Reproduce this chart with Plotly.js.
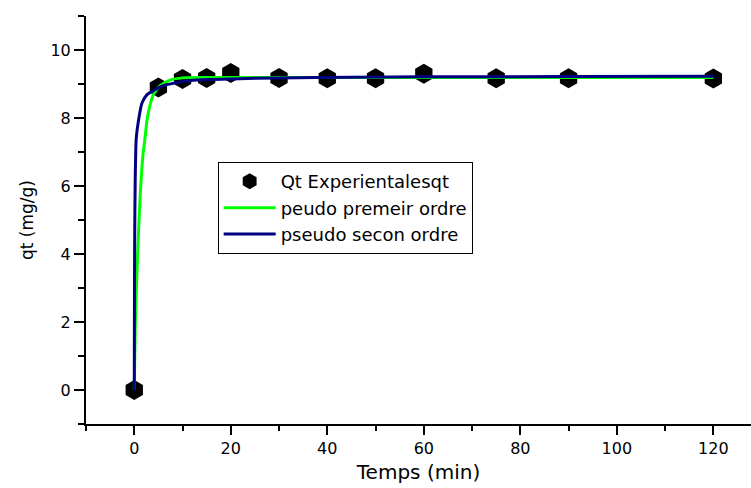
<!DOCTYPE html>
<html>
<head>
<meta charset="utf-8">
<script src="https://cdn.plot.ly/plotly-3.0.1.min.js"></script>
<style>html,body{margin:0;padding:0;background:#fff;}#chart{width:751px;height:488px;}</style>
</head>
<body>
<div id="chart"></div>
<script>
// Experimental points
var expTime = [0, 5, 10, 15, 20, 30, 40, 50, 60, 75, 90, 120];
var expQt   = [0, 8.9, 9.15, 9.18, 9.32, 9.18, 9.17, 9.17, 9.3, 9.17, 9.17, 9.16];

// Pseudo-first-order curve
var pfoTime = [0, 0.2, 0.5, 0.9, 1.3, 1.8, 2.3, 2.6, 3.3, 4, 5.4, 7.5, 10, 15, 20, 30, 60, 120];
var pfoQt   = [0, 1.8, 3.2, 4.7, 5.9, 6.9, 7.5, 7.9, 8.4, 8.7, 8.95, 9.12, 9.18, 9.19, 9.19, 9.19, 9.19, 9.19];

// Pseudo-second-order curve
var psoTime = [0, 0.05, 0.1, 0.2, 0.41, 0.9, 1.6, 2.6, 3.9, 6, 8.8, 11.6, 15, 20, 30, 45, 60, 90, 120];
var psoQt   = [0, 3.1, 4.7, 6.2, 7.4, 7.95, 8.44, 8.68, 8.8, 8.95, 9.04, 9.1, 9.13, 9.15, 9.18, 9.2, 9.21, 9.22, 9.23];

var names = ["Qt Experientalesqt", "peudo premeir ordre", "pseudo secon ordre"];

var traces = [
  {x: expTime, y: expQt, mode: "markers", type: "scatter", name: names[0],
   marker: {symbol: "hexagon", size: 20, color: "#000000"}},
  {x: pfoTime, y: pfoQt, mode: "lines", type: "scatter", name: names[1],
   line: {color: "#00ff00", width: 3, shape: "spline", smoothing: 0.6}},
  {x: psoTime, y: psoQt, mode: "lines", type: "scatter", name: names[2],
   line: {color: "#000080", width: 3, shape: "spline", smoothing: 0.6}}
];

var layout = {
  width: 751, height: 488,
  margin: {l: 86, r: 0, t: 16, b: 64},
  paper_bgcolor: "#ffffff", plot_bgcolor: "#ffffff",
  font: {family: "DejaVu Sans, sans-serif", color: "#000000", size: 16},
  showlegend: true,
  legend: {x: 0.198, y: 0.642, xanchor: "left", yanchor: "top",
           bordercolor: "#000000", borderwidth: 1, bgcolor: "#ffffff",
           font: {size: 18}, itemwidth: 52, tracegroupgap: 0},
  xaxis: {
    range: [-10, 127.8], tickmode: "linear", tick0: 0, dtick: 20,
    ticks: "outside", ticklen: 9, tickwidth: 2, tickcolor: "#000",
    showline: true, linecolor: "#000", linewidth: 2, showgrid: false, zeroline: false,
    tickfont: {size: 16},
    minor: {dtick: 10, tick0: 0, ticks: "outside", ticklen: 5, tickwidth: 2, tickcolor: "#000", showgrid: false},
    title: {text: "Temps (min)", font: {size: 20}, standoff: 8}
  },
  yaxis: {
    range: [-1, 11], tickmode: "linear", tick0: 0, dtick: 2,
    ticks: "outside", ticklen: 10, tickwidth: 2, tickcolor: "#000",
    showline: true, linecolor: "#000", linewidth: 2, showgrid: false, zeroline: false,
    tickfont: {size: 16},
    minor: {dtick: 1, tick0: 0, ticks: "outside", ticklen: 6, tickwidth: 2, tickcolor: "#000", showgrid: false},
    title: {text: "qt (mg/g)", font: {size: 17}, standoff: 12}
  }
};

Plotly.newPlot("chart", traces, layout, {displayModeBar: false, staticPlot: true});
</script>
</body>
</html>
